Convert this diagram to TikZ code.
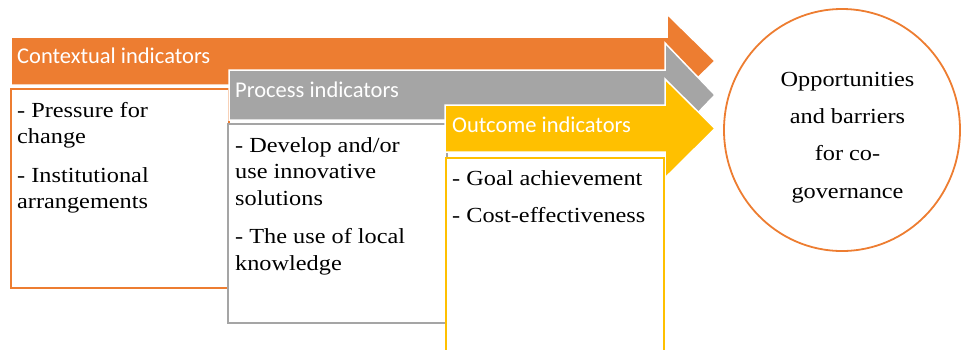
\documentclass[tikz,border=0pt]{standalone}
\usepackage{tikz}
\usetikzlibrary{positioning,shapes.geometric}
\usepackage{xcolor}
\usepackage{fontspec}
\setmainfont{Liberation Serif}[FakeStretch=1.13]
\newfontfamily\labelfont{Carlito}
\definecolor{ctxorange}{HTML}{ED7D31}
\definecolor{procgrey}{HTML}{A5A5A5}
\definecolor{outyellow}{HTML}{FFC000}

\begin{document}
\begin{tikzpicture}[x=1pt, y=-1pt]
\tikzset{
    indarrow/.style={draw=white, line width=1.5pt, line join=miter},
    indbox/.style={rectangle, fill=white, line width=1.8pt, anchor=north west, inner sep=0pt, minimum width=218pt, minimum height=199pt},
    indlabel/.style={anchor=base west, inner sep=0pt, text=white, font=\labelfont\fontsize{22.5}{26}\selectfont},
    bodytext/.style={inner sep=0pt, align=left, font=\fontsize{21.5}{26.5}\selectfont},
    goalnode/.style={ellipse, draw=ctxorange, line width=1.8pt, minimum width=236pt, minimum height=242pt}
}
\useasboundingbox (0,0) rectangle (961,349);
\clip (0,0) rectangle (961,349);

% contextual indicators
\filldraw[indarrow, fill=ctxorange] (11,37) -- (667,37) -- (667,14) -- (715,61) -- (667,108) -- (667,85) -- (11,85) -- cycle;
\node[indlabel] (ctxlabel) at (17,63) {Contextual indicators};
\node[indbox, draw=ctxorange] (ctxbox) at (10,88) {};
\node[bodytext, below right=10.5pt and 7pt of ctxbox.north west] (ctxtext)
    {\strut- Pressure for\\change\\[12pt]- Institutional\\arrangements};

% process indicators
\filldraw[indarrow, fill=procgrey] (229,70) -- (665,70) -- (665,43) -- (715,95) -- (665,147) -- (665,120) -- (229,120) -- cycle;
\node[indlabel] (proclabel) at (235,97) {Process indicators};
\node[indbox, draw=procgrey, minimum width=219pt] (procbox) at (227,123) {};
\node[bodytext, below right=10.5pt and 8pt of procbox.north west] (proctext)
    {\strut- Develop and/or\\use innovative\\solutions\\[12pt]- The use of local\\knowledge};

% outcome indicators
\filldraw[indarrow, fill=outyellow] (445,105) -- (665,105) -- (665,79) -- (715,128.5) -- (665,178) -- (665,152) -- (445,152) -- cycle;
\node[indlabel] (outlabel) at (452,132) {Outcome indicators};
\node[indbox, draw=outyellow, minimum height=205pt] (outbox) at (445,157) {};
\node[bodytext, below right=9.5pt and 7pt of outbox.north west] (outtext)
    {\strut- Goal achievement\\[11pt]- Cost-effectiveness};

% the circle on the right
\node[goalnode] (goal) at (842,130) {};
\node[bodytext, align=center, font=\fontsize{21.5}{37.3}\selectfont, anchor=north] (goaltext) at (847.5,60) 
    {\strut Opportunities\\and barriers\\for co-\\governance};
% text sits a little below the middle of the circle

\end{tikzpicture}
\end{document}
